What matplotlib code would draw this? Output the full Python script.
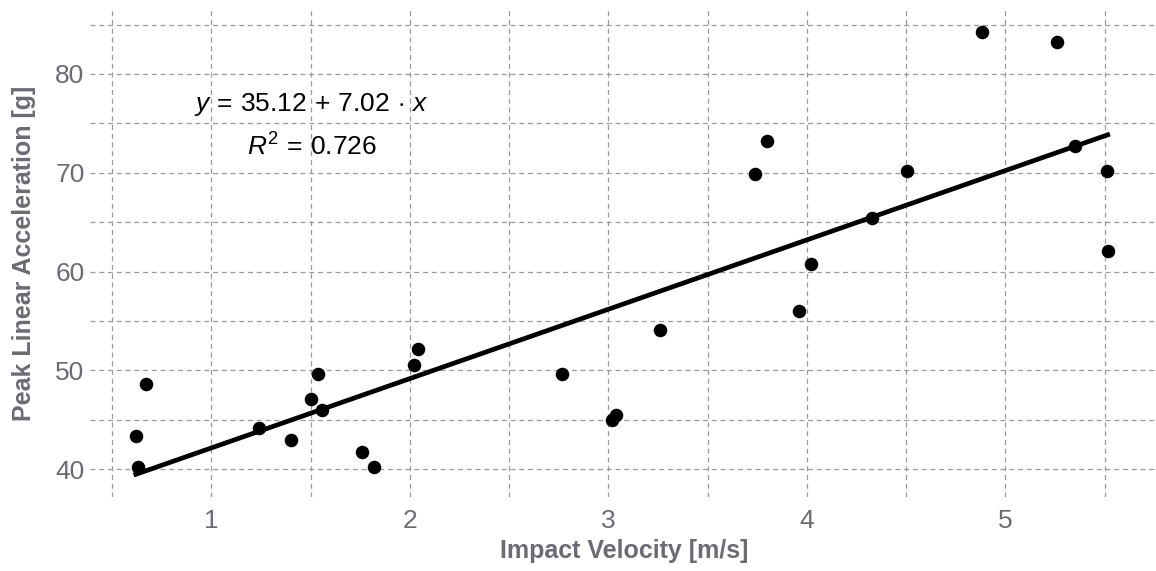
import matplotlib
matplotlib.use("Agg")
import matplotlib.pyplot as plt
import numpy as np

# Data
impact_velocity = [0.62, 0.63, 0.67, 1.24, 1.40, 1.50, 1.54, 1.56, 1.76, 1.82,
                   2.02, 2.04, 2.765, 3.02, 3.04, 3.26, 3.74, 3.80, 3.96, 4.02,
                   4.33, 4.505, 4.88, 5.26, 5.35, 5.51, 5.515]
peak_accel = [43.4, 40.2, 48.6, 44.2, 42.9, 47.1, 49.6, 46.0, 41.7, 40.2,
              50.5, 52.2, 49.6, 45.0, 45.5, 54.1, 69.9, 73.2, 56.0, 60.8,
              65.4, 70.2, 84.2, 83.2, 72.7, 70.2, 62.1]
fit_intercept = 35.12
fit_slope = 7.02
r_squared = 0.726
x_ticks = [1, 2, 3, 4, 5]
y_ticks = [40, 50, 60, 70, 80]

plt.rcParams['font.family'] = ['Liberation Sans', 'DejaVu Sans']
plt.rcParams['mathtext.fontset'] = 'custom'
plt.rcParams['mathtext.rm'] = 'Liberation Sans'
plt.rcParams['mathtext.it'] = 'Liberation Sans:italic'

fig = plt.figure(figsize=(11.56, 5.71), dpi=100)
ax = fig.add_axes([0.078, 0.130, 0.924, 0.853])

grey_txt = '#6b6b73'
grid_col = '#9a9a9a'

ax.set_xlim(0.39, 5.77)
ax.set_ylim(37.2, 86.5)
ax.set_xticks(x_ticks)
ax.set_yticks(y_ticks)
ax.set_xticks(np.arange(0.5, 5.6, 0.5), minor=True)
ax.set_yticks(np.arange(45, 86, 10), minor=True)
ax.grid(True, which='both', color=grid_col, linestyle=(0, (4, 3)), linewidth=0.9)
ax.set_axisbelow(True)
for s in ax.spines.values():
    s.set_visible(False)
ax.tick_params(which='both', length=0, colors=grey_txt, labelsize=19)
ax.tick_params(axis='x', pad=9)
ax.tick_params(axis='y', pad=4)

ax.scatter(impact_velocity, peak_accel, s=95, color='black', zorder=3, linewidths=0)

xs = np.array([min(impact_velocity), max(impact_velocity)])
ax.plot(xs, fit_intercept + fit_slope * xs, color='black', linewidth=3.4, zorder=4)

ax.text(1.505, 76.9, r'$y\,=\,%.2f\,+\,%.2f\,\cdot\,x$' % (fit_intercept, fit_slope),
        ha='center', va='center', fontsize=19, color='black')
ax.text(1.505, 72.6, r'$R^2\,=\,%.3f$' % r_squared,
        ha='center', va='center', fontsize=19, color='black')

ax.set_xlabel('Impact Velocity [m/s]', fontsize=18, fontweight='bold', color=grey_txt, labelpad=4)
ax.set_ylabel('Peak Linear Acceleration [g]', fontsize=18, fontweight='bold', color=grey_txt, labelpad=14)

fig.savefig('out.png', dpi=100)
